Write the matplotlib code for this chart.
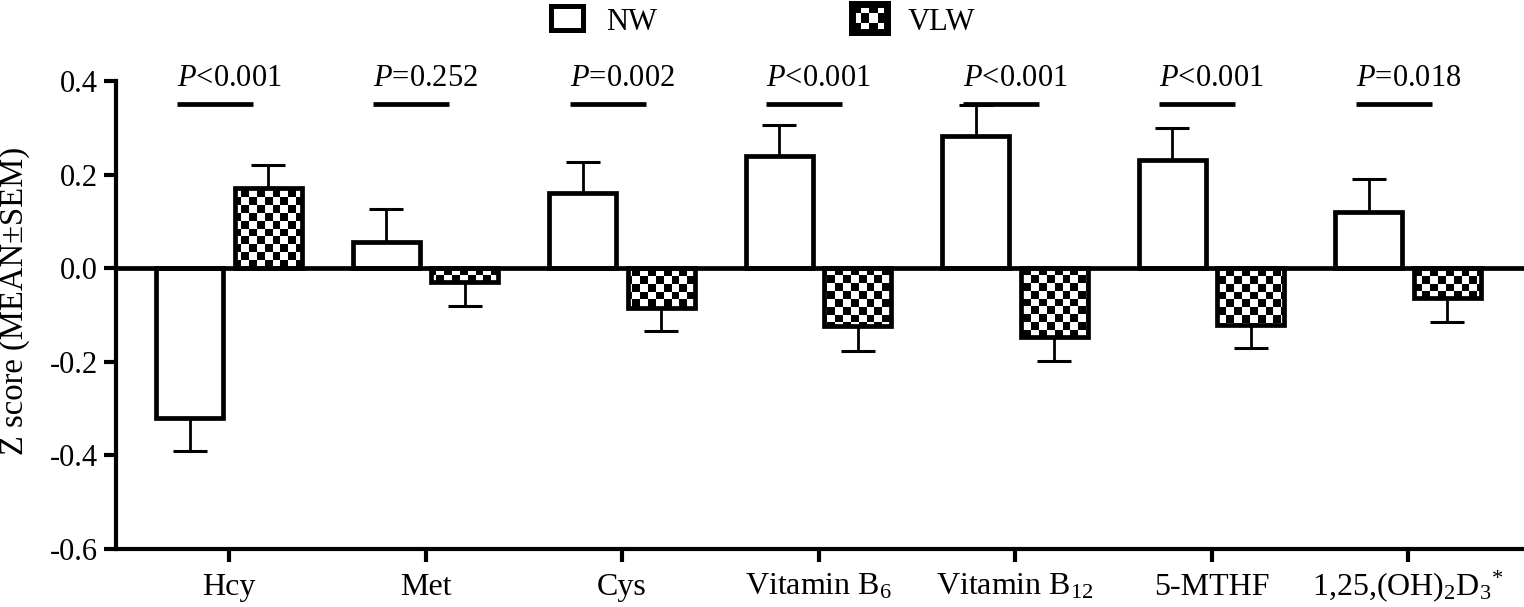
import matplotlib
matplotlib.use('Agg')
import matplotlib.pyplot as plt
from matplotlib.patches import Rectangle
import numpy as np

plt.rcParams['font.family'] = 'Liberation Serif'
plt.rcParams['mathtext.fontset'] = 'custom'
plt.rcParams['mathtext.rm'] = 'Liberation Serif'
plt.rcParams['mathtext.it'] = 'Liberation Serif:italic'

# values
labels = ['Hcy', 'Met', 'Cys', 'Vitamin B$_{6}$', 'Vitamin B$_{12}$', '5-MTHF',
          '1,25,(OH)$_{2}$D$_{3}$$^{*}$']
nw_mean = [-0.32, 0.056, 0.16, 0.24, 0.283, 0.232, 0.121]
nw_sem = [0.07, 0.07, 0.067, 0.066, 0.065, 0.068, 0.07]
vlw_mean = [0.171, -0.03, -0.085, -0.124, -0.148, -0.121, -0.064]
vlw_sem = [0.05, 0.05, 0.05, 0.052, 0.05, 0.05, 0.05]
p_text = ['$P$<0.001', '$P$=0.252', '$P$=0.002', '$P$<0.001',
          '$P$<0.001', '$P$<0.001', '$P$=0.018']
yticks = [-0.6, -0.4, -0.2, 0.0, 0.2, 0.4]

fig = plt.figure(figsize=(15.24, 6.07), dpi=100)
ax = fig.add_axes([116/1524, 1 - 549/607, 1408/1524, 468/607])
x = np.arange(len(labels))
xlim = (-0.575, 6.59)
ylim = (-0.6, 0.4)

# checkerboard texture, clipped to each VLW bar later
nx, ny = 180, 60
checker = np.add.outer(np.arange(ny), np.arange(nx)) % 2

off, w = 0.2, 0.34
lw = 3.4
nw_bars = ax.bar(x - off, nw_mean, w, facecolor='white', edgecolor='black',
                 linewidth=lw, zorder=3)
vlw_bars = ax.bar(x + off, vlw_mean, w, facecolor='none', edgecolor='black',
                  linewidth=lw, zorder=3)
for b in vlw_bars:
    im = ax.imshow(checker, cmap='gray', extent=(*xlim, *ylim), aspect='auto',
                   interpolation='nearest', zorder=2)
    im.set_clip_path(b)

# one-sided error bars (away from zero)
for xs, m, s in [(x - off, nw_mean, nw_sem), (x + off, vlw_mean, vlw_sem)]:
    m = np.array(m)
    s = np.array(s)
    lo = np.where(m < 0, s, 0)
    hi = np.where(m >= 0, s, 0)
    ax.errorbar(xs, m, yerr=[lo, hi], fmt='none', ecolor='black',
                elinewidth=2, capsize=12, capthick=2.2, zorder=4)

ax.axhline(0, color='black', linewidth=3.4, zorder=5)

# significance lines and p values
for xi, t in zip(x, p_text):
    ax.hlines(0.35, xi - 0.265, xi + 0.12, color='black', linewidth=3.4,
              capstyle='butt', zorder=5)
    ax.text(xi - 0.265, 0.39, t, fontsize=22, ha='left', va='baseline',
            clip_on=False)

ax.set_xlim(*xlim)
ax.set_ylim(*ylim)
ax.set_xticks(x)
ax.set_xticklabels(labels)
ax.set_yticks(yticks)
ax.set_yticklabels([f'{v:.1f}' for v in yticks])
for side in ['top', 'right']:
    ax.spines[side].set_visible(False)
for side in ['left', 'bottom']:
    ax.spines[side].set_linewidth(3.0)
ax.tick_params(axis='both', length=9, width=3.0)
ax.tick_params(axis='y', pad=4, labelsize=22)
ax.tick_params(axis='x', pad=24, labelsize=23)
for lbl in ax.get_xticklabels():
    lbl.set_verticalalignment('baseline')
ax.set_ylabel('Z score (MEAN±SEM)', fontsize=23.5)
ax.yaxis.set_label_coords(-0.061, 0.53)

# legend drawn by hand
fig.patches.append(Rectangle((551/1524, 1 - 30/607), 32/1524, 24/607,
                             transform=fig.transFigure, facecolor='white',
                             edgecolor='black', linewidth=3.6))
fig.text(606/1524, 1 - 30/607, 'NW', fontsize=22, va='baseline')
lax = fig.add_axes([852/1524, 1 - 32/607, 35/1524, 28/607])
lax.imshow(np.add.outer(np.arange(3), np.arange(4)) % 2, cmap='gray',
           aspect='auto', interpolation='nearest')
lax.set_xticks([])
lax.set_yticks([])
for sp in lax.spines.values():
    sp.set_linewidth(5)
fig.text(908/1524, 1 - 30/607, 'VLW', fontsize=22, va='baseline')

fig.savefig('out.png', dpi=100)
